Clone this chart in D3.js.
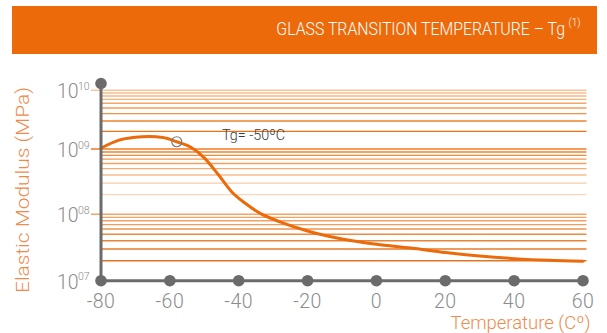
<!DOCTYPE html>
<html>
<head>
<meta charset="utf-8">
<script src="https://cdn.jsdelivr.net/npm/d3@7"></script>
<style>
  html, body { margin: 0; padding: 0; background: #fff; }
  svg { display: block; }
</style>
</head>
<body>
<svg id="chart" width="607" height="333"></svg>
<script>
// Storage modulus of the material versus temperature (log scale, MPa)
const temperatures = [-80, -75, -70, -66, -62, -58, -54, -50, -46, -42, -38, -34, -28, -20, -10, 0, 10, 20, 30, 40, 50, 60];
const modulus = [1.03e9, 1.40e9, 1.58e9, 1.63e9, 1.57e9, 1.33e9, 1.08e9, 7.3e8, 4.1e8, 2.2e8, 1.46e8, 1.05e8, 7.7e7, 5.6e7, 4.25e7, 3.53e7, 3.1e7, 2.66e7, 2.35e7, 2.15e7, 2.03e7, 1.97e7];

// Axis ticks
const xTickValues = [-80, -60, -40, -20, 0, 20, 40, 60];
const xTickLabels = ["-80", "-60", "-40", "-20", "0", "20", "40", "60"];
const yDecades = [1e7, 1e8, 1e9, 1e10];
const yTickExponents = ["07", "08", "09", "10"];
const minorMultipliers = [2, 3, 4, 5, 6, 7, 8, 9];

// Glass transition marker
const tgMarkerTemp = -58;
const tgMarkerModulus = 1.33e9;
const tgText = "Tg= -50ºC";

const titleText = "GLASS TRANSITION TEMPERATURE – Tg";
const titleNote = "(1)";
const yTitle = "Elastic Modulus (MPa)";
const xTitle = "Temperature (Cº)";

const ORANGE = "#ec6a0a";
const AXIS_GREY = "#6b6b6b";
const LABEL_GREY = "#8c8c8c";
const TITLE_ORANGE = "#f08a4c";
const FONT = "Roboto, 'Open Sans', sans-serif";

const svg = d3.select("#chart");

const x = d3.scaleLinear().domain([-80, 60]).range([101, 583]);
const y = d3.scaleLog().domain(yDecades).range([280.7, 214.3, 149, 90.3]);

// Grid colour varies with height, as in the printed sheet
const gridColor = d3.scaleLinear()
  .domain([90, 102, 109, 117, 126, 138, 149, 157, 168, 176, 186, 198, 214, 222, 233, 245, 262])
  .range(["#f9c49c", "#f6aa6c", "#f49a50", "#f28a38", "#ef7618", "#ed6c0a", "#f07a22", "#f39244", "#f6ab6e", "#f8bf90", "#fad0b0", "#fbd8bc", "#f5a466", "#f4a062", "#f08c40", "#ea7c2c", "#e27224"])
  .clamp(true);

// Title banner
svg.append("rect")
  .attr("x", 12).attr("y", 6).attr("width", 585).attr("height", 48)
  .attr("fill", ORANGE);

// Condensed heading: right-aligned main text, then the footnote mark
const heading = svg.append("text")
  .attr("transform", "translate(565,35) scale(0.88,1)")
  .attr("text-anchor", "end")
  .attr("fill", "#fff")
  .attr("font-family", FONT)
  .attr("font-weight", 300)
  .attr("font-size", 18)
  .text(titleText);

svg.append("text")
  .attr("x", 568.5).attr("y", 26)
  .attr("fill", "#fff")
  .attr("font-family", FONT)
  .attr("font-weight", 300)
  .attr("font-size", 10)
  .text(titleNote);

// Horizontal grid: minor lines inside every decade, plus decade lines
const minorValues = [];
yDecades.slice(0, -1).forEach(d => minorMultipliers.forEach(k => minorValues.push(k * d)));
const majorValues = yDecades.slice(1);

const grid = svg.append("g");
grid.selectAll("line.minor")
  .data(minorValues)
  .join("line")
  .attr("class", "minor")
  .attr("x1", x(-80)).attr("x2", 586.5)
  .attr("y1", d => y(d)).attr("y2", d => y(d))
  .attr("stroke", d => gridColor(y(d)))
  .attr("stroke-width", 1.4);

grid.selectAll("line.major")
  .data(majorValues)
  .join("line")
  .attr("class", "major")
  .attr("x1", x(-80) - 10).attr("x2", 586.5)
  .attr("y1", d => y(d)).attr("y2", d => y(d))
  .attr("stroke", d => gridColor(y(d)))
  .attr("stroke-width", 1.4);

// Modulus curve
const line = d3.line()
  .x((d, i) => x(temperatures[i]))
  .y(d => y(d))
  .curve(d3.curveMonotoneX);

svg.append("path")
  .datum(modulus)
  .attr("d", line)
  .attr("fill", "none")
  .attr("stroke", ORANGE)
  .attr("stroke-width", 3)
  .attr("stroke-linecap", "round");

// Tg marker and note
svg.append("circle")
  .attr("cx", x(tgMarkerTemp)).attr("cy", y(tgMarkerModulus))
  .attr("r", 5)
  .attr("fill", "none")
  .attr("stroke", "#7a7a7a")
  .attr("stroke-width", 1.2);

svg.append("text")
  .attr("x", 222).attr("y", 139.5)
  .attr("fill", "#3a3a3a")
  .attr("font-family", FONT)
  .attr("font-weight", 300)
  .attr("font-size", 15.5)
  .attr("textLength", 63)
  .attr("lengthAdjust", "spacingAndGlyphs")
  .text(tgText);

// Axes
const axes = svg.append("g");
axes.append("line")
  .attr("x1", x(-80)).attr("x2", x(-80))
  .attr("y1", 83.5).attr("y2", y(1e7))
  .attr("stroke", AXIS_GREY).attr("stroke-width", 3);
axes.append("line")
  .attr("x1", x(-80)).attr("x2", x(60))
  .attr("y1", y(1e7)).attr("y2", y(1e7))
  .attr("stroke", AXIS_GREY).attr("stroke-width", 3);
axes.append("circle")
  .attr("cx", x(-80)).attr("cy", 83.5).attr("r", 5.8)
  .attr("fill", AXIS_GREY);
axes.selectAll("circle.tick")
  .data(xTickValues)
  .join("circle")
  .attr("class", "tick")
  .attr("cx", d => x(d)).attr("cy", y(1e7)).attr("r", 5.8)
  .attr("fill", AXIS_GREY);

// X tick labels
svg.append("g").selectAll("text")
  .data(xTickValues)
  .join("text")
  .attr("x", d => x(d)).attr("y", 307.5)
  .attr("text-anchor", "middle")
  .attr("fill", LABEL_GREY)
  .attr("font-family", FONT)
  .attr("font-weight", 300)
  .attr("font-size", 19.5)
  .attr("letter-spacing", 0.5)
  .text((d, i) => xTickLabels[i]);

// Y tick labels: 10 with exponent
const yLab = svg.append("g").selectAll("g")
  .data(yDecades)
  .join("g")
  .attr("transform", d => `translate(0,${y(d) + 8})`);
yLab.append("text")
  .attr("x", 57).attr("y", 0)
  .attr("fill", LABEL_GREY)
  .attr("font-family", FONT)
  .attr("font-weight", 300)
  .attr("font-size", 19.5)
  .text("10");
yLab.append("text")
  .attr("x", 78).attr("y", -8.5)
  .attr("fill", LABEL_GREY)
  .attr("font-family", FONT)
  .attr("font-weight", 300)
  .attr("font-size", 10.5)
  .text((d, i) => yTickExponents[i]);

// Axis titles
svg.append("text")
  .attr("transform", "translate(28.5,190) rotate(-90)")
  .attr("text-anchor", "middle")
  .attr("fill", TITLE_ORANGE)
  .attr("font-family", FONT)
  .attr("font-weight", 300)
  .attr("font-size", 18)
  .attr("textLength", 206)
  .attr("lengthAdjust", "spacingAndGlyphs")
  .text(yTitle);

svg.append("text")
  .attr("x", 450.5).attr("y", 329)
  .attr("fill", TITLE_ORANGE)
  .attr("font-family", FONT)
  .attr("font-weight", 300)
  .attr("font-size", 18)
  .attr("textLength", 140)
  .attr("lengthAdjust", "spacingAndGlyphs")
  .text(xTitle);
</script>
</body>
</html>
